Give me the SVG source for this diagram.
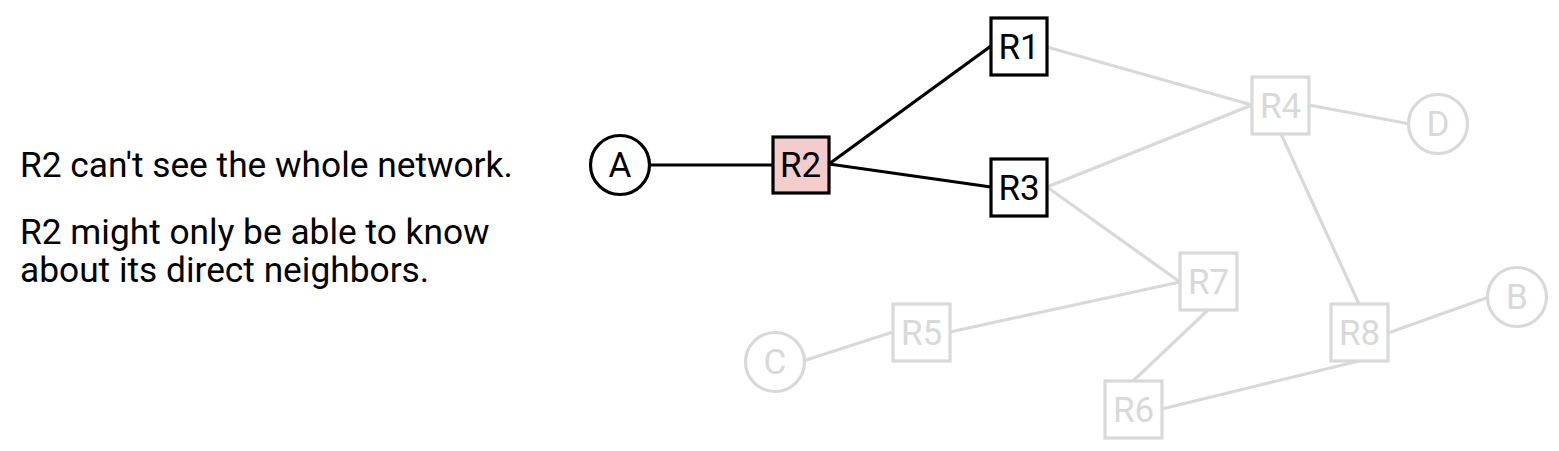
<svg xmlns="http://www.w3.org/2000/svg" width="1559" height="451" viewBox="0 0 1559 451">
<style>
text{font-family:Roboto,"Liberation Sans",sans-serif;}
.cap{font-size:35.3px;fill:#000;}
.lbl{text-anchor:middle;font-size:35px;}
.on rect,.on circle{fill:#fff;stroke:#000;stroke-width:3.2;}
.on text{fill:#000;}
.off rect,.off circle{fill:#fff;stroke:#d9d9d9;stroke-width:3.2;}
.off text{fill:#d9d9d9;}
.eon{stroke:#000;stroke-width:3.2;fill:none;}
.eoff{stroke:#d9d9d9;stroke-width:3.2;fill:none;}
</style>
<rect width="1559" height="451" fill="#fff"/>
<g id="caption">
<text class="cap" x="20" y="177">R2 can't see the whole network.</text>
<text class="cap" x="20" y="244">R2 might only be able to know</text>
<text class="cap" x="20" y="282">about its direct neighbors.</text>
</g>
<g id="connectors">
<line class="eoff" x1="1047" y1="47" x2="1252" y2="105"/>
<line class="eoff" x1="1047" y1="187" x2="1252" y2="105"/>
<line class="eoff" x1="1047" y1="187" x2="1180" y2="282"/>
<line class="eoff" x1="1309" y1="105" x2="1410" y2="124"/>
<line class="eoff" x1="1281" y1="134" x2="1359" y2="304"/>
<line class="eoff" x1="1180" y1="282" x2="950" y2="332"/>
<line class="eoff" x1="1208" y1="310" x2="1133" y2="381"/>
<line class="eoff" x1="803" y1="361" x2="893" y2="332"/>
<line class="eoff" x1="1388" y1="333" x2="1489" y2="297"/>
<line class="eoff" x1="1359" y1="361" x2="1162" y2="409"/>
<line class="eon" x1="648" y1="165" x2="773" y2="165"/>
<line class="eon" x1="829" y1="164" x2="991" y2="46"/>
<line class="eon" x1="829" y1="164" x2="991" y2="187"/>
</g>
<g id="A" class="on"><circle cx="620" cy="165" r="29.5"/><text class="lbl" x="620" y="177">A</text></g>
<g id="R2" class="on"><rect x="773" y="137" width="56" height="56" style="fill:#f4cccc"/><text class="lbl" x="800.5" y="177">R2</text></g>
<g id="R1" class="on"><rect x="991" y="18" width="56" height="57"/><text class="lbl" x="1019" y="58.7">R1</text></g>
<g id="R3" class="on"><rect x="991" y="159" width="56" height="57"/><text class="lbl" x="1019" y="199.7">R3</text></g>
<g id="R4" class="off"><rect x="1252" y="77" width="57" height="57"/><text class="lbl" x="1280.5" y="117.7">R4</text></g>
<g id="D" class="off"><circle cx="1438" cy="124" r="29.5"/><text class="lbl" x="1438" y="136.3">D</text></g>
<g id="R7" class="off"><rect x="1180" y="253" width="57" height="57"/><text class="lbl" x="1208.5" y="293.7">R7</text></g>
<g id="R5" class="off"><rect x="893" y="304" width="57" height="57"/><text class="lbl" x="921.5" y="344.7">R5</text></g>
<g id="C" class="off"><circle cx="775" cy="362" r="29.5"/><text class="lbl" x="775" y="374.3">C</text></g>
<g id="R8" class="off"><rect x="1331" y="304" width="57" height="57"/><text class="lbl" x="1359.5" y="344.7">R8</text></g>
<g id="B" class="off"><circle cx="1517" cy="297" r="29.5"/><text class="lbl" x="1517" y="309.3">B</text></g>
<g id="R6" class="off"><rect x="1105" y="381" width="57" height="57"/><text class="lbl" x="1133.5" y="421.7">R6</text></g>
</svg>
